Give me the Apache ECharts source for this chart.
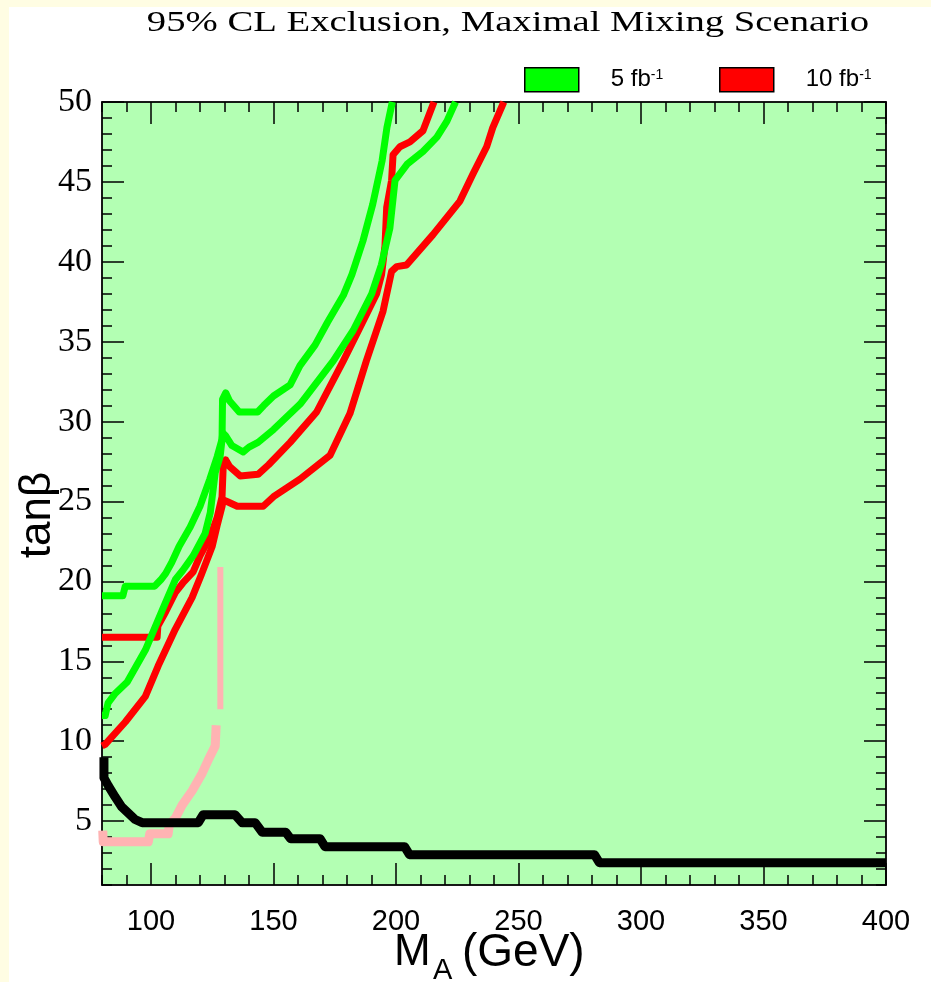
<!DOCTYPE html>
<html>
<head>
<meta charset="utf-8">
<script src="https://cdn.jsdelivr.net/npm/echarts@6/dist/echarts.min.js"></script>
<style>
  html, body { margin: 0; padding: 0; background: #fff; }
  #chart { width: 931px; height: 982px; }
</style>
</head>
<body>
<div id="chart"></div>
<script>
// tick values
const xMajor = [100, 150, 200, 250, 300, 350, 400]
const yMajor = [5, 10, 15, 20, 25, 30, 35, 40, 45, 50]

// 5 fb-1 curves (green)
const green5Upper = [
  [80, 19.1], [88.5, 19.1], [89.5, 19.7], [101.5, 19.7], [104, 20.1], [106, 20.5],
  [108.5, 21.2], [111.5, 22.2], [116, 23.4], [120, 24.7], [124, 26.4], [127, 27.8],
  [129, 28.9], [129.2, 31.4], [130.5, 31.8], [132, 31.3], [136, 30.6], [143.5, 30.6],
  [146, 31], [150, 31.6], [156.8, 32.3], [160.8, 33.5], [167, 34.8], [172, 36.2],
  [178.5, 37.9], [182, 39.2], [186.5, 41.3], [190.5, 43.6], [194.3, 46.3], [196.3, 48.4], [198.5, 50]
]
const green5Lower = [
  [80, 11.6], [81.3, 11.6], [82.5, 12.4], [85.5, 13], [90.3, 13.7], [97.7, 15.7],
  [104.6, 18.2], [109.9, 20.1], [113, 20.7], [117.2, 21.6], [122.1, 23], [124.2, 24.3],
  [126.2, 26.8], [128.2, 27.8], [129.3, 29.3], [130.5, 29.1], [133, 28.5], [137.6, 28.1],
  [140, 28.4], [143.7, 28.7], [150, 29.5], [160.9, 31.1], [174.4, 33.8], [182.5, 35.7],
  [190.1, 38], [194, 39.8], [197.5, 42.1], [199.6, 45.1], [204.5, 46.1], [211, 46.9],
  [216.7, 47.8], [220.8, 48.8], [224.3, 50]
]

// 10 fb-1 curves (red)
const red10Upper = [
  [80, 16.5], [102.5, 16.5], [102.8, 17.2], [106, 18.1], [109.9, 19.3], [113, 19.9],
  [117.2, 20.6], [120, 21.6], [124.2, 22.8], [127, 24], [129, 25.3], [129.5, 27.3],
  [130.5, 27.6], [132, 27.2], [136.4, 26.6], [143.7, 26.7], [148, 27.3], [156.8, 28.7],
  [167.6, 30.6], [178.5, 33.8], [185, 35.8], [192.1, 38], [194.1, 39.2], [195.5, 41],
  [196.2, 43.4], [198.2, 45.1], [198.8, 46.7], [201.6, 47.2], [205.7, 47.5],
  [211, 48.2], [215.5, 50]
]
const red10Lower = [
  [80, 9.7], [81.3, 9.8], [89.5, 11.2], [97.7, 12.8], [102.9, 14.7], [109.9, 17],
  [116.8, 19], [120.5, 20.4], [125, 22.2], [127, 23.5], [129, 24.7], [129.5, 25.1],
  [131, 25], [135.2, 24.7], [145.8, 24.7], [150, 25.3], [160.8, 26.4], [173.1, 27.9],
  [181.2, 30.5], [187.9, 33.8], [194.7, 36.9], [198.2, 39.4], [200.3, 39.7], [204.3, 39.8],
  [215.1, 41.7], [226.1, 43.8], [231.4, 45.5], [237, 47.2], [239.5, 48.4], [244, 50]
]

// pink pieces
const pinkStair = [
  [80.3, 4.4], [80.5, 3.7], [98.9, 3.7], [99.5, 4.2], [107, 4.2], [107.5, 4.8],
  [110, 5.2], [112.7, 6.0], [116.8, 6.9], [120.9, 8.0], [123.3, 8.8], [126.2, 9.7], [126.6, 11]
]
const pinkBar = [[128.3, 12], [128.3, 20.9]]

// black boundary
const blackLine = [
  [80.8, 9.0], [80.8, 7.7], [82.6, 7.2], [85.4, 6.5], [88, 5.9], [90.7, 5.5], [93.5, 5.1],
  [96.4, 4.9], [119.3, 4.9], [121.3, 5.4], [134.3, 5.4], [137.2, 4.9], [142.5, 4.9],
  [145.4, 4.3], [155, 4.3], [157, 3.9], [169, 3.9], [171, 3.4], [203.5, 3.4], [205.5, 2.9],
  [281, 2.9], [283, 2.4], [400, 2.4]
]

const tickStyle = { color: '#000', width: 1.5 }

function xAxisDef(pos, major, labels) {
  return {
    type: 'value', position: pos, min: 80, max: 400, interval: 10,
    axisLine: { show: !major, onZero: false, lineStyle: tickStyle },
    axisTick: major
      ? { inside: true, length: 22, customValues: xMajor, lineStyle: tickStyle }
      : { inside: true, length: 10, lineStyle: tickStyle },
    axisLabel: labels
      ? { customValues: xMajor, margin: 22, color: '#000', fontSize: 29, fontFamily: 'Liberation Sans' }
      : { show: false },
    splitLine: { show: false }
  }
}

function yAxisDef(pos, major, labels) {
  return {
    type: 'value', position: pos, min: 1, max: 50, interval: 1,
    axisLine: { show: !major, onZero: false, lineStyle: tickStyle },
    axisTick: major
      ? { inside: true, length: 22, customValues: yMajor, lineStyle: tickStyle }
      : { inside: true, length: 10, lineStyle: tickStyle },
    axisLabel: labels
      ? { customValues: yMajor, margin: 10, color: '#000', fontSize: 34, fontFamily: 'Liberation Serif' }
      : { show: false },
    splitLine: { show: false }
  }
}

function curve(name, data, color, width) {
  return {
    name: name, type: 'line', data: data, showSymbol: false, silent: true,
    color: color, itemStyle: { color: color },
    lineStyle: { color: color, width: width, join: 'round' }
  }
}

function legendDef(name, left, label) {
  return {
    data: [name], left: left, top: 62, itemWidth: 54, itemHeight: 24,
    icon: 'rect', selectedMode: false,
    itemStyle: { borderColor: '#000', borderWidth: 1.5 },
    formatter: () => '{t|' + label + '}{s|-1}',
    textStyle: {
      rich: {
        t: { fontSize: 24, fontFamily: 'Liberation Sans', color: '#000', padding: [0, 0, 0, 27] },
        s: { fontSize: 14, fontFamily: 'Liberation Sans', color: '#000', verticalAlign: 'top' }
      }
    }
  }
}

const myChart = echarts.init(document.getElementById('chart'))
const option = {
  animation: false,
  backgroundColor: '#fff',
  grid: {
    left: 102, right: 45, top: 102, bottom: 97,
    show: true, backgroundColor: '#b3ffb3', borderColor: '#333', borderWidth: 1.5
  },
  legend: [
    legendDef('5 fb-1', 519, '5 fb'),
    legendDef('10 fb-1', 714, '10 fb')
  ],
  xAxis: [
    xAxisDef('bottom', false, false),
    xAxisDef('bottom', true, true),
    xAxisDef('top', false, false),
    xAxisDef('top', true, false)
  ],
  yAxis: [
    yAxisDef('left', false, false),
    yAxisDef('left', true, true),
    yAxisDef('right', false, false),
    yAxisDef('right', true, false)
  ],
  series: [
    curve('pink', pinkStair, '#ffb3b3', 9),
    curve('pink', pinkBar, '#ffb3b3', 6),
    curve('10 fb-1', red10Upper, '#ff0000', 7),
    curve('10 fb-1', red10Lower, '#ff0000', 7),
    curve('5 fb-1', green5Upper, '#00ff00', 7),
    curve('5 fb-1', green5Lower, '#00ff00', 7),
    curve('black', blackLine, '#000', 9)
  ],
  graphic: [
    { type: 'rect', shape: { x: 0, y: 0, width: 9, height: 982 }, style: { fill: '#fffde3' }, silent: true },
    { type: 'rect', shape: { x: 0, y: 0, width: 931, height: 7 }, style: { fill: '#fffde3' }, silent: true },
    {
      type: 'text', x: 508, y: 23, scaleX: 1.29,
      style: { text: '95% CL Exclusion, Maximal Mixing Scenario', fontSize: 30, fontFamily: 'Liberation Serif', fill: '#000', align: 'center', verticalAlign: 'middle' }
    },
    {
      type: 'text', x: 38, y: 515, rotation: Math.PI / 2,
      style: { text: 'tanβ', fontSize: 44, fontFamily: 'Liberation Sans', fill: '#000', align: 'center', verticalAlign: 'middle' }
    },
    {
      type: 'text', x: 394, y: 953,
      style: { text: 'M', fontSize: 44, fontFamily: 'Liberation Sans', fill: '#000', align: 'left', verticalAlign: 'middle' }
    },
    {
      type: 'text', x: 433, y: 971,
      style: { text: 'A', fontSize: 29, fontFamily: 'Liberation Sans', fill: '#000', align: 'left', verticalAlign: 'middle' }
    },
    {
      type: 'text', x: 462, y: 953,
      style: { text: '(GeV)', fontSize: 46, fontFamily: 'Liberation Sans', fill: '#000', align: 'left', verticalAlign: 'middle' }
    }
  ]
}
myChart.setOption(option)
</script>
</body>
</html>
